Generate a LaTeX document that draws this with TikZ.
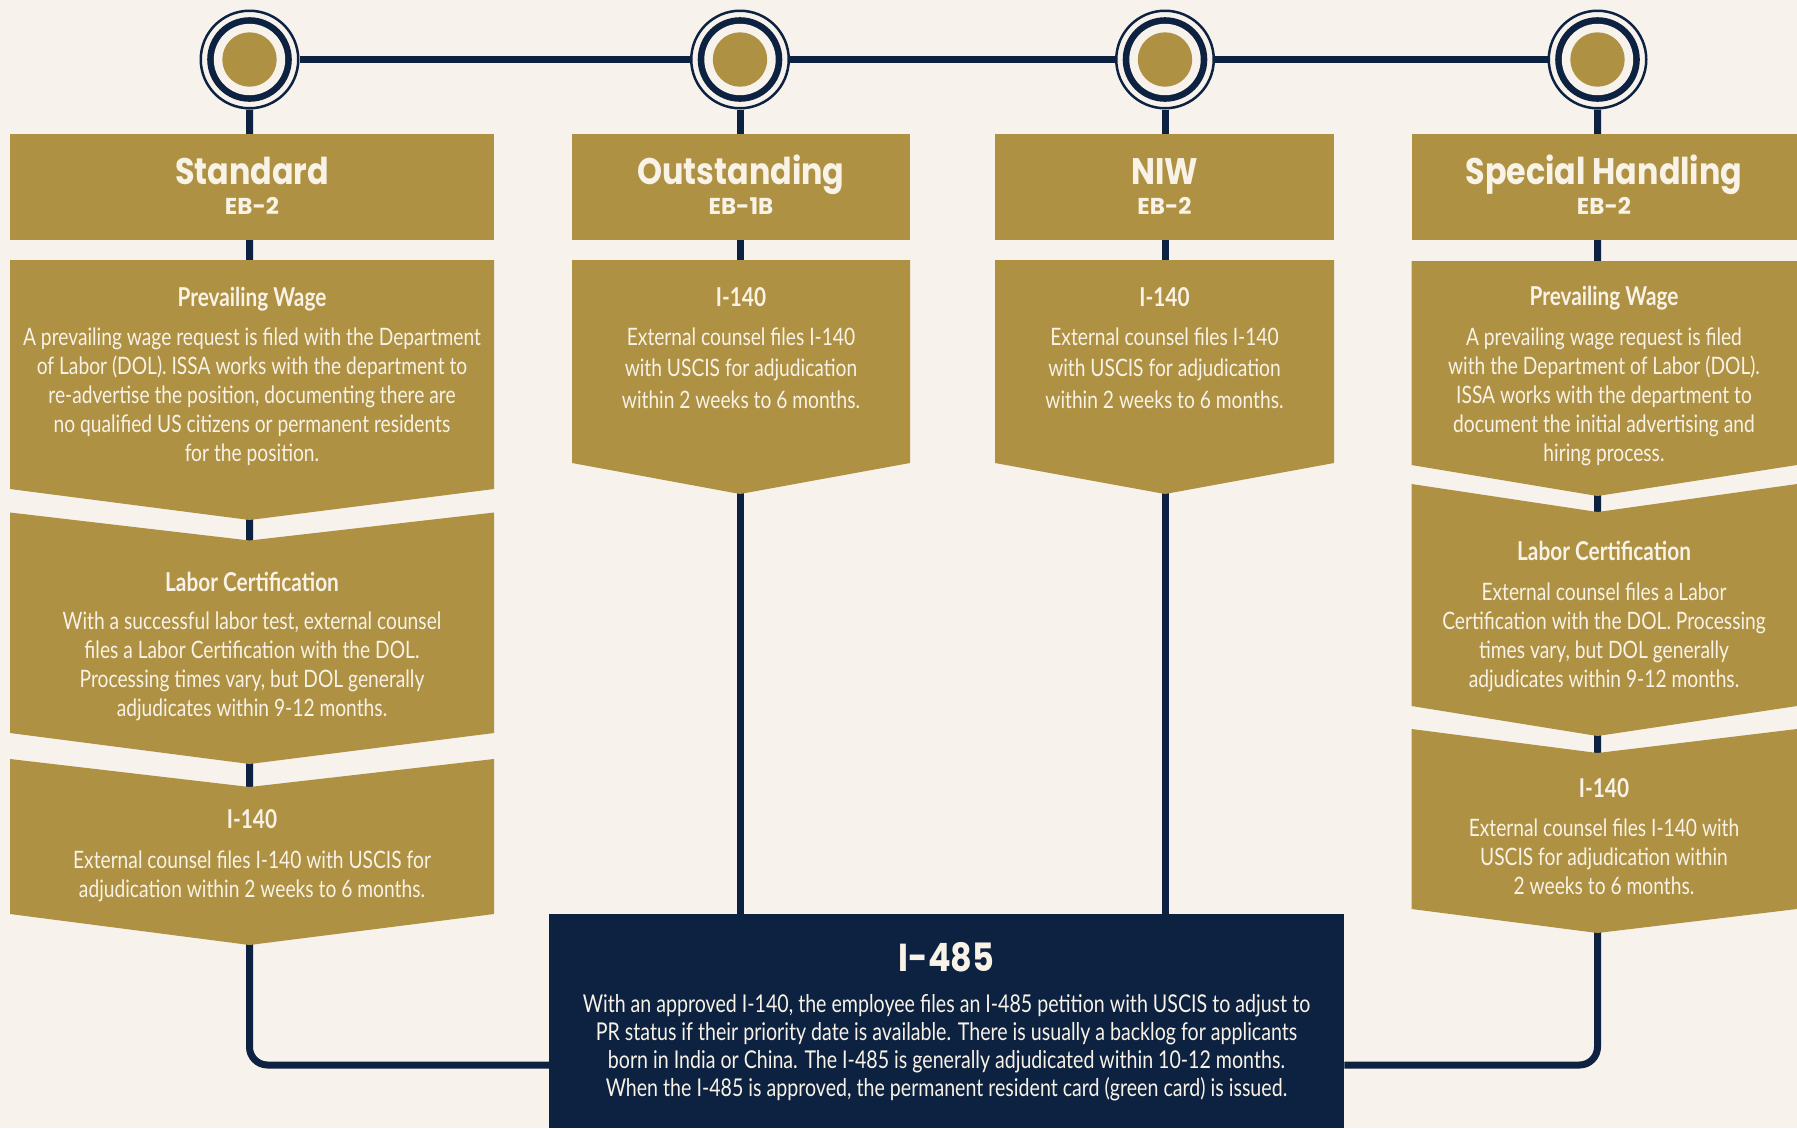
\documentclass[tikz,border=0pt]{standalone}
\usepackage{fontspec}
\setmainfont{Lato}[FakeStretch=0.80]
\newfontfamily\ttlfont{Lato}[FakeStretch=0.80]
\newfontfamily\headfont{Poppins}[FakeStretch=0.86]
\newfontfamily\subfont{Poppins}
\definecolor{bgc}{HTML}{F7F3EC}
\definecolor{gold}{HTML}{AE9143}
\definecolor{navy}{HTML}{0D2240}
\definecolor{cream}{HTML}{F8F2E7}
\pgfdeclarelayer{back}
\pgfdeclarelayer{lines}
\pgfsetlayers{back,lines,main}
\newcommand\chevshape[7]{\fill[gold] (#1,#4) -- (#3,#5) -- (#2,#4) -- (#2,#6) -- (#3,#7) -- (#1,#6) -- cycle;}
\begin{document}
\begin{tikzpicture}[x=1pt,y=-1pt,
  conn/.style={draw=navy, line width=7pt},
  milestone/.style={circle, minimum size=97.5pt, inner sep=0pt, draw=navy, line width=2.5pt, fill=bgc,
    path picture={
      \fill[navy] (path picture bounding box.center) circle (42.3);
      \fill[bgc] (path picture bounding box.center) circle (35.7);
      \fill[gold] (path picture bounding box.center) circle (27.2);}},
  hdrbox/.style={fill=gold, inner sep=0pt, anchor=north west, minimum height=106pt},
  headt/.style={text=cream, anchor=base, inner sep=0pt, font=\headfont\fontsize{37}{40}\selectfont\bfseries},
  bigt/.style={text=cream, anchor=base, inner sep=0pt, font=\headfont\fontsize{39}{42}\selectfont\bfseries},
  subt/.style={text=cream, anchor=base, inner sep=0pt, font=\subfont\fontsize{23}{26}\selectfont\bfseries},
  ttl/.style={text=cream, anchor=base, inner sep=0pt, font=\ttlfont\fontsize{26}{30}\selectfont\bfseries},
  body/.style={text=cream, align=center, inner sep=0pt, font=\fontsize{24}{29}\selectfont},
  bodywide/.style={text=cream, align=center, inner sep=0pt, font=\fontsize{24}{31.5}\selectfont},
  bodytight/.style={text=cream, align=center, inner sep=0pt, font=\fontsize{24.5}{28}\selectfont},
]
\useasboundingbox (0,0) rectangle (1797,1128);
\begin{pgfonlayer}{back}
\fill[bgc] (0,0) rectangle (1797,1128);
\end{pgfonlayer}

% milestones
\node[milestone] (c1) at (249.5,59.5) {};
\node[milestone] (c2) at (740,59.5) {};
\node[milestone] (c3) at (1165,59.5) {};
\node[milestone] (c4) at (1597.5,59.5) {};

% header boxes
\node[hdrbox, minimum width=484pt] (h1) at (10,134) {};
\node[hdrbox, minimum width=338pt] (h2) at (572,134) {};
\node[hdrbox, minimum width=339pt] (h3) at (995,134) {};
\node[hdrbox, minimum width=386pt] (h4) at (1411.5,134) {};
\node[headt] (h1t) at (252,184.5) {Standard};
\node[subt] (h1s) at (252,214) {EB-2};
\node[headt] (h2t) at (741,184.5) {Outstanding};
\node[subt] (h2s) at (741,214) {EB-1B};
\node[headt] (h3t) at (1164.5,184.5) {NIW};
\node[subt] (h3s) at (1164.5,214) {EB-2};
\node[headt] (h4t) at (1604,184.5) {Special Handling};
\node[subt] (h4s) at (1604,214) {EB-2};

% chevrons column 1
\chevshape{10}{494}{249.5}{260}{260}{489}{520}
\chevshape{10}{494}{249.5}{512.5}{540.5}{733}{764}
\chevshape{10}{494}{249.5}{759}{787}{914}{945}
% columns 2 and 3
\chevshape{572}{910}{740}{260}{260}{463}{494}
\chevshape{995}{1334}{1165}{260}{260}{463}{494}
% column 4
\chevshape{1411.5}{1797}{1597.5}{261}{261}{465}{496}
\chevshape{1411.5}{1797}{1597.5}{484}{512}{706}{736}
\chevshape{1411.5}{1797}{1597.5}{729}{753}{909}{933}

% I-485 box
\node[fill=navy, inner sep=0pt, anchor=north west, minimum width=795pt, minimum height=214pt] (i485) at (549,914) {};
\coordinate (b1) at (0,1065);

% connectors
\begin{pgfonlayer}{lines}
\draw[conn] (c1) -- (c2);
\draw[conn] (c2) -- (c3);
\draw[conn] (c3) -- (c4);
\draw[conn, rounded corners=18pt] (c1.south) |- (i485.west |- b1);
\draw[conn] (c2.south) -- (c2.south |- i485.north);
\draw[conn] (c3.south) -- (c3.south |- i485.north);
\draw[conn, rounded corners=18pt] (c4.south) |- (i485.east |- b1);
\end{pgfonlayer}

% column 1 texts
\node[ttl] (t1a) at (252,306) {Prevailing Wage};
\node[body] (b1a) at (252,397.8) {\strut A prevailing wage request is filed with the Department\\
of Labor (DOL). ISSA works with the department to\\
re-advertise the position, documenting there are\\
no qualified US citizens or permanent residents\\
for the position.\strut};
\node[ttl] (t1b) at (252,591) {Labor Certification};
\node[body] (b1b) at (252,667.5) {\strut With a successful labor test, external counsel\\
files a Labor Certification with the DOL.\\
Processing times vary, but DOL generally\\
adjudicates within 9-12 months.\strut};
\node[ttl] (t1c) at (252,828.6) {I-140};
\node[body] (b1c) at (252,877) {\strut External counsel files I-140 with USCIS for\\
adjudication within 2 weeks to 6 months.\strut};

% column 2 and 3 texts
\node[ttl] (t2a) at (741,306) {I-140};
\node[bodywide] (b2a) at (741,370.6) {\strut External counsel files I-140\\
with USCIS for adjudication\\
within 2 weeks to 6 months.\strut};
\node[ttl] (t3a) at (1164.5,306) {I-140};
\node[bodywide] (b3a) at (1164.5,370.6) {\strut External counsel files I-140\\
with USCIS for adjudication\\
within 2 weeks to 6 months.\strut};

% column 4 texts
\node[ttl] (t4a) at (1604,305.3) {Prevailing Wage};
\node[body] (b4a) at (1604,398.1) {\strut A prevailing wage request is filed\\
with the Department of Labor (DOL).\\
ISSA works with the department to\\
document the initial advertising and\\
hiring process.\strut};
\node[ttl] (t4b) at (1604,560.3) {Labor Certification};
\node[body] (b4b) at (1604,638.1) {\strut External counsel files a Labor\\
Certification with the DOL. Processing\\
times vary, but DOL generally\\
adjudicates within 9-12 months.\strut};
\node[ttl] (t4c) at (1604,797.6) {I-140};
\node[body] (b4c) at (1604,859.8) {\strut External counsel files I-140 with\\
USCIS for adjudication within\\
2 weeks to 6 months.\strut};

% I-485 texts
\node[bigt] (t5) at (946.5,971.6) {I-485};
\node[bodytight] (b5) at (946.5,1049) {\strut With an approved I-140, the employee files an I-485 petition with USCIS to adjust to\\
PR status if their priority date is available. There is usually a backlog for applicants\\
born in India or China. The I-485 is generally adjudicated within 10-12 months.\\
When the I-485 is approved, the permanent resident card (green card) is issued.\strut};
\end{tikzpicture}
\end{document}
